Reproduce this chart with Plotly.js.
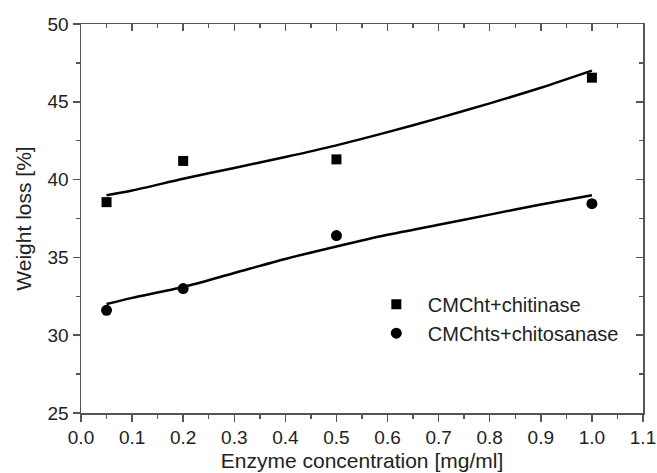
<!DOCTYPE html>
<html>
<head>
<meta charset="utf-8">
<script src="https://cdn.plot.ly/plotly-3.0.1.min.js"></script>
<style>html,body{margin:0;padding:0;background:#fff;}#chart{width:657px;height:473px;}</style>
</head>
<body>
<div id="chart"></div>
<script>
// Measured data
var concentration = [0.05, 0.2, 0.5, 1.0];
var chitinaseLoss = [38.55, 41.2, 41.3, 46.55];
var chitosanaseLoss = [31.6, 33.0, 36.4, 38.45];

// Fitted curves
var fitX = [0.05, 0.1, 0.2, 0.3, 0.4, 0.5, 0.6, 0.7, 0.8, 0.9, 1.0];
var chitinaseFit = [39.0, 39.3, 40.05, 40.75, 41.45, 42.2, 43.05, 43.95, 44.9, 45.9, 47.0];
var chitosanaseFit = [32.0, 32.4, 33.1, 34.0, 34.9, 35.7, 36.45, 37.1, 37.75, 38.4, 39.0];

var xTickVals = [0.0, 0.1, 0.2, 0.3, 0.4, 0.5, 0.6, 0.7, 0.8, 0.9, 1.0, 1.1];
var xTickText = ["0.0","0.1","0.2","0.3","0.4","0.5","0.6","0.7","0.8","0.9","1.0","1.1"];
var yTickVals = [25, 30, 35, 40, 45, 50];

var FONT = "Arial, 'Liberation Sans', sans-serif";
var AX = "#555";

var traces = [
  {x: fitX, y: chitinaseFit, mode: "lines", line: {color: "#000", width: 2.5, shape: "spline", smoothing: 0.8}, showlegend: false, hoverinfo: "skip"},
  {x: fitX, y: chitosanaseFit, mode: "lines", line: {color: "#000", width: 2.5, shape: "spline", smoothing: 0.8}, showlegend: false, hoverinfo: "skip"},
  {x: concentration, y: chitinaseLoss, mode: "markers", name: "CMCht+chitinase",
   marker: {symbol: "square", size: 10, color: "#000"}},
  {x: concentration, y: chitosanaseLoss, mode: "markers", name: "CMChts+chitosanase",
   marker: {symbol: "circle", size: 11, color: "#000"}},
  {x: [], y: [], xaxis: "x2", yaxis: "y2", showlegend: false, hoverinfo: "skip"}
];

var layout = {
  width: 657, height: 473,
  margin: {l: 81, r: 14, t: 24, b: 60, pad: 0},
  paper_bgcolor: "#fff", plot_bgcolor: "#fff",
  font: {family: FONT, color: "#222", size: 19},
  showlegend: true,
  legend: {x: 0.505, y: 0.33, xanchor: "left", yanchor: "top", bgcolor: "rgba(0,0,0,0)",
           font: {family: FONT, size: 20, color: "#222"}, itemwidth: 53, tracegroupgap: 0},
  xaxis: {
    range: [0, 1.1], tickvals: xTickVals, ticktext: xTickText,
    ticks: "outside", ticklen: 7, tickwidth: 1.5, tickcolor: AX,
    minor: {dtick: 0.05, tick0: 0, ticks: "outside", ticklen: 4, tickwidth: 1.5, tickcolor: AX},
    showline: true, linecolor: AX, linewidth: 1.5, showgrid: false, zeroline: false,
    tickfont: {family: FONT, size: 19, color: "#222"},
    title: {text: "Enzyme concentration [mg/ml]", font: {family: FONT, size: 21, color: "#222"}, standoff: 6}
  },
  yaxis: {
    range: [25, 50], tickvals: yTickVals,
    ticks: "outside", ticklen: 7, tickwidth: 1.5, tickcolor: AX,
    minor: {dtick: 2.5, tick0: 25, ticks: "outside", ticklen: 4, tickwidth: 1.5, tickcolor: AX},
    showline: true, linecolor: AX, linewidth: 1.5, showgrid: false, zeroline: false,
    tickfont: {family: FONT, size: 19, color: "#222"},
    title: {text: "Weight loss [%]", font: {family: FONT, size: 21, color: "#222"}, standoff: 10}
  },
  xaxis2: {
    overlaying: "x", side: "top", anchor: "y2", range: [0, 1.1], tickvals: xTickVals,
    showticklabels: false, ticks: "inside", ticklen: 7, tickwidth: 1.5, tickcolor: AX,
    minor: {dtick: 0.05, tick0: 0, ticks: "inside", ticklen: 4, tickwidth: 1.5, tickcolor: AX},
    showline: true, linecolor: AX, linewidth: 1.5, showgrid: false, zeroline: false
  },
  yaxis2: {
    overlaying: "y", side: "right", anchor: "x2", range: [25, 50], tickvals: yTickVals,
    showticklabels: false, ticks: "inside", ticklen: 7, tickwidth: 1.5, tickcolor: AX,
    minor: {dtick: 2.5, tick0: 25, ticks: "inside", ticklen: 4, tickwidth: 1.5, tickcolor: AX},
    showline: true, linecolor: AX, linewidth: 1.5, showgrid: false, zeroline: false
  }
};

Plotly.newPlot("chart", traces, layout, {staticPlot: true, displayModeBar: false});
</script>
</body>
</html>
